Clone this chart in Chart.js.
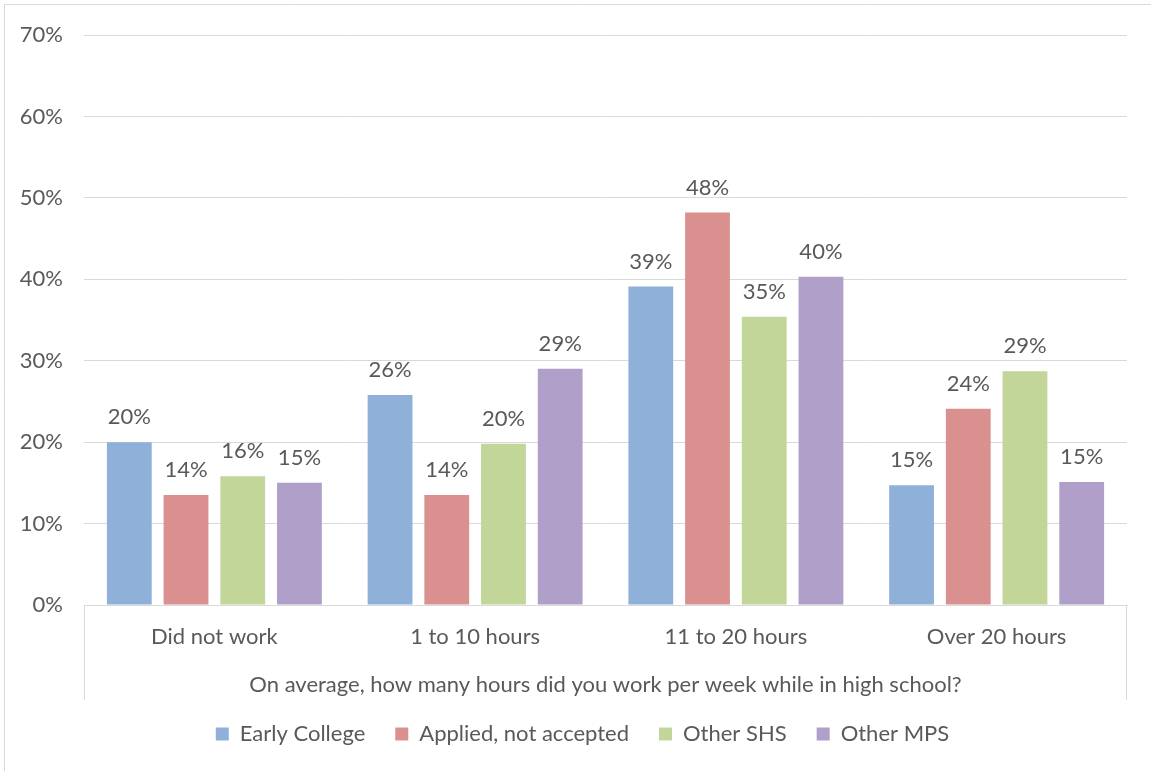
<!DOCTYPE html>
<html>
<head>
<meta charset="utf-8">
<title>Hours worked per week in high school</title>
<script src="https://cdn.jsdelivr.net/npm/chart.js@4.4.1/dist/chart.umd.min.js"></script>
<style>
  html, body { margin: 0; padding: 0; background: #ffffff; }
  #wrap { width: 1151px; height: 771px; }
</style>
</head>
<body>
<div id="wrap"><canvas id="chart" width="1151" height="771"></canvas></div>
<script>
// Survey answers: share of respondents by weekly work hours, per student group (%)
const categories = ['Did not work', '1 to 10 hours', '11 to 20 hours', 'Over 20 hours'];
const earlyCollege       = [20.0, 25.8, 39.1, 14.7];
const appliedNotAccepted = [13.5, 13.5, 48.2, 24.1];
const otherSHS           = [15.8, 19.8, 35.4, 28.7];
const otherMPS           = [15.0, 29.0, 40.3, 15.1];
const seriesNames  = ['Early College', 'Applied, not accepted', 'Other SHS', 'Other MPS'];
const seriesColors = ['#8fb0d8', '#d9908e', '#c2d69a', '#b09fc8'];
const yTickValues  = [0, 10, 20, 30, 40, 50, 60, 70];
const axisTitle = 'On average, how many hours did you work per week while in high school?';

const TEXT = '#595959';
const LINE = '#d9d9d9';
const FONT = 'Lato';

// Value labels above every bar
const barValueLabels = {
  id: 'barValueLabels',
  afterDatasetsDraw(chart) {
    const ctx = chart.ctx;
    ctx.save();
    ctx.font = `22px ${FONT}`;
    ctx.fillStyle = TEXT;
    ctx.textAlign = 'center';
    ctx.textBaseline = 'alphabetic';
    chart.data.datasets.forEach((ds, di) => {
      chart.getDatasetMeta(di).data.forEach((bar, i) => {
        ctx.fillText(Math.round(ds.data[i]) + '%', bar.x, bar.y - 18);
      });
    });
    ctx.restore();
  }
};

// Center the legend row slightly left of the plot centre
const legendOffset = {
  id: 'legendOffset',
  afterLayout(chart) {
    if (chart.legend) chart.legend.left -= 46;
  }
};

// Frame of the chart and the outer brackets of the category axis
const frameAndBrackets = {
  id: 'frameAndBrackets',
  afterDraw(chart) {
    const ctx = chart.ctx;
    const x = chart.scales.x;
    const area = chart.chartArea;
    ctx.save();
    ctx.strokeStyle = LINE;
    ctx.lineWidth = 1;
    ctx.beginPath();
    ctx.moveTo(Math.round(x.left) + 0.5, area.bottom);
    ctx.lineTo(Math.round(x.left) + 0.5, area.bottom + 95);
    ctx.moveTo(Math.round(x.right) - 0.5, area.bottom);
    ctx.lineTo(Math.round(x.right) - 0.5, area.bottom + 95);
    ctx.stroke();
    ctx.beginPath();
    ctx.moveTo(4.5, chart.height);
    ctx.lineTo(4.5, 4.5);
    ctx.lineTo(chart.width, 4.5);
    ctx.stroke();
    ctx.restore();
  }
};

function build() {
  const seriesData = [earlyCollege, appliedNotAccepted, otherSHS, otherMPS];
  new Chart(document.getElementById('chart'), {
    type: 'bar',
    data: {
      labels: categories,
      datasets: seriesNames.map((name, i) => ({
        label: name,
        data: seriesData[i],
        backgroundColor: seriesColors[i],
        borderWidth: 0,
        categoryPercentage: 0.87,
        barPercentage: 0.79
      }))
    },
    options: {
      responsive: false,
      animation: false,
      devicePixelRatio: 1,
      layout: { padding: { top: 35, right: 24, bottom: 18, left: 0 } },
      font: { family: FONT },
      plugins: {
        legend: {
          position: 'bottom',
          fullSize: false,
          maxHeight: 60,
          labels: {
            boxWidth: 13,
            boxHeight: 13,
            padding: 30,
            color: TEXT,
            font: { family: FONT, size: 22 }
          }
        },
        tooltip: { enabled: false },
        title: { display: false }
      },
      scales: {
        x: {
          grid: { display: false },
          border: { display: true, color: LINE, width: 1 },
          ticks: { color: TEXT, font: { family: FONT, size: 22 }, padding: 11 },
          title: {
            display: true,
            text: axisTitle,
            color: TEXT,
            font: { family: FONT, size: 22 },
            padding: { top: 0, bottom: -5 }
          },
          afterFit(scale) { scale.height = 88; }
        },
        y: {
          min: 0,
          max: 70,
          afterBuildTicks(scale) { scale.ticks = yTickValues.map(v => ({ value: v })); },
          grid: { color: LINE, lineWidth: 1, drawTicks: false },
          border: { display: false },
          ticks: {
            color: TEXT,
            font: { family: FONT, size: 22 },
            padding: 21,
            callback: v => v + '%'
          },
          afterFit(scale) { scale.width = 84; }
        }
      }
    },
    plugins: [barValueLabels, legendOffset, frameAndBrackets]
  });
}

if (document.fonts && document.fonts.load) {
  document.fonts.load(`22px ${FONT}`).then(build, build);
} else {
  build();
}
</script>
</body>
</html>
